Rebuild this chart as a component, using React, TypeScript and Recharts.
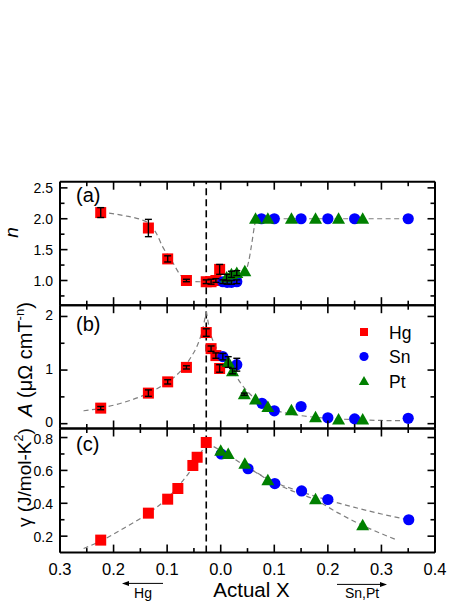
import React from "react";
import {
  ComposedChart,
  Scatter,
  Line,
  XAxis,
  YAxis,
  ReferenceLine,
  ErrorBar,
  Legend,
} from "recharts";

const FONT = "'Liberation Sans', Arial, Helvetica, sans-serif";
const W = 471;

// x < 0 is the Hg side, x > 0 the Sn / Pt side; tick labels show |x|
const xDomain = [-0.3, 0.4];
const xTicks = [-0.3, -0.25, -0.2, -0.15, -0.1, -0.05, 0, 0.05, 0.1, 0.15, 0.2, 0.25, 0.3, 0.35, 0.4];
const xMajor = [-0.3, -0.2, -0.1, 0, 0.1, 0.2, 0.3, 0.4];
const xCritical = -0.027;

// (a) exponent n
const nTicks = [0.75, 1.0, 1.25, 1.5, 1.75, 2.0, 2.25, 2.5];
const nMajor = [1.0, 1.5, 2.0, 2.5];
const nHg = [
  { x: -0.224, y: 2.1, e: 0.08 },
  { x: -0.135, y: 1.85, e: 0.14 },
  { x: -0.099, y: 1.35, e: 0.05 },
  { x: -0.064, y: 1.0, e: 0.02 },
  { x: -0.027, y: 0.98, e: 0.03 },
  { x: -0.018, y: 0.98, e: 0.04 },
  { x: -0.009, y: 1.0, e: 0.03 },
  { x: -0.002, y: 1.18, e: 0.08 },
];
const nSn = [
  { x: 0.004, y: 0.98, e: 0.03 },
  { x: 0.012, y: 0.97, e: 0.03 },
  { x: 0.02, y: 0.97, e: 0.03 },
  { x: 0.03, y: 0.98, e: 0.03 },
  { x: 0.076, y: 2.0 },
  { x: 0.1, y: 2.0 },
  { x: 0.15, y: 2.0 },
  { x: 0.2, y: 2.0 },
  { x: 0.25, y: 2.0 },
  { x: 0.35, y: 2.0 },
];
const nPt = [
  { x: 0.011, y: 1.05, e: 0.05 },
  { x: 0.02, y: 1.1, e: 0.05 },
  { x: 0.03, y: 1.12, e: 0.04 },
  { x: 0.045, y: 1.15 },
  { x: 0.065, y: 2.0 },
  { x: 0.088, y: 2.0 },
  { x: 0.132, y: 2.0 },
  { x: 0.177, y: 2.0 },
  { x: 0.22, y: 2.0 },
  { x: 0.265, y: 2.0 },
];
const nFit = [
  { x: -0.224, y: 2.11 },
  { x: -0.18, y: 2.05 },
  { x: -0.15, y: 1.99 },
  { x: -0.135, y: 1.93 },
  { x: -0.12, y: 1.76 },
  { x: -0.108, y: 1.54 },
  { x: -0.09, y: 1.3 },
  { x: -0.077, y: 1.11 },
  { x: -0.062, y: 1.0 },
  { x: -0.04, y: 0.98 },
  { x: 0.0, y: 0.98 },
  { x: 0.03, y: 1.0 },
  { x: 0.045, y: 1.12 },
  { x: 0.052, y: 1.3 },
  { x: 0.058, y: 1.6 },
  { x: 0.063, y: 1.88 },
  { x: 0.066, y: 2.0 },
  { x: 0.1, y: 2.0 },
  { x: 0.35, y: 2.0 },
];

// (b) coefficient A
const aTicks = [0, 0.5, 1, 1.5, 2];
const aMajor = [0, 1, 2];
const aHg = [
  { x: -0.224, y: 0.29, e: 0.03 },
  { x: -0.135, y: 0.57, e: 0.06 },
  { x: -0.099, y: 0.78, e: 0.04 },
  { x: -0.064, y: 1.05, e: 0.03 },
  { x: -0.027, y: 1.7, e: 0.07 },
  { x: -0.018, y: 1.4, e: 0.05 },
  { x: -0.009, y: 1.27, e: 0.05 },
  { x: -0.002, y: 1.03, e: 0.07 },
];
const aSn = [
  { x: 0.004, y: 1.25, e: 0.06 },
  { x: 0.03, y: 1.1, e: 0.12 },
  { x: 0.077, y: 0.38 },
  { x: 0.1, y: 0.24 },
  { x: 0.15, y: 0.32 },
  { x: 0.2, y: 0.11 },
  { x: 0.25, y: 0.09 },
  { x: 0.35, y: 0.1 },
];
const aPt = [
  { x: 0.014, y: 1.15, e: 0.1 },
  { x: 0.022, y: 0.98, e: 0.05 },
  { x: 0.044, y: 0.55, e: 0.02 },
  { x: 0.065, y: 0.45 },
  { x: 0.088, y: 0.31 },
  { x: 0.132, y: 0.25 },
  { x: 0.177, y: 0.12 },
  { x: 0.22, y: 0.08 },
  { x: 0.265, y: 0.08 },
];
const aFitLeft = [
  { x: -0.256, y: 0.24 },
  { x: -0.224, y: 0.29 },
  { x: -0.18, y: 0.4 },
  { x: -0.135, y: 0.57 },
  { x: -0.1, y: 0.77 },
  { x: -0.075, y: 0.98 },
  { x: -0.055, y: 1.25 },
  { x: -0.042, y: 1.5 },
  { x: -0.034, y: 1.75 },
  { x: -0.027, y: 2.1 },
];
const aFitRight = [
  { x: -0.027, y: 2.1 },
  { x: -0.02, y: 1.72 },
  { x: -0.01, y: 1.45 },
  { x: 0.0, y: 1.25 },
  { x: 0.02, y: 1.02 },
  { x: 0.04, y: 0.72 },
  { x: 0.06, y: 0.5 },
  { x: 0.08, y: 0.36 },
  { x: 0.1, y: 0.26 },
  { x: 0.12, y: 0.2 },
  { x: 0.15, y: 0.15 },
  { x: 0.2, y: 0.1 },
  { x: 0.25, y: 0.075 },
  { x: 0.3, y: 0.06 },
  { x: 0.35, y: 0.055 },
];

// (c) Sommerfeld coefficient gamma
const gTicks = [0.2, 0.3, 0.4, 0.5, 0.6, 0.7, 0.8];
const gMajor = [0.2, 0.4, 0.6, 0.8];
const gHg = [
  { x: -0.224, y: 0.176 },
  { x: -0.135, y: 0.34 },
  { x: -0.099, y: 0.425 },
  { x: -0.08, y: 0.49 },
  { x: -0.052, y: 0.63 },
  { x: -0.044, y: 0.68 },
  { x: -0.027, y: 0.77 },
];
const gSn = [
  { x: 0.001, y: 0.7 },
  { x: 0.051, y: 0.61 },
  { x: 0.101, y: 0.52 },
  { x: 0.151, y: 0.475 },
  { x: 0.2, y: 0.423 },
  { x: 0.351, y: 0.3 },
];
const gPt = [
  { x: 0.0, y: 0.72 },
  { x: 0.014, y: 0.7 },
  { x: 0.045, y: 0.64 },
  { x: 0.088, y: 0.54 },
  { x: 0.177, y: 0.425 },
  { x: 0.265, y: 0.267 },
];
const gFitLeft = [
  { x: -0.256, y: 0.125 },
  { x: -0.224, y: 0.17 },
  { x: -0.18, y: 0.25 },
  { x: -0.135, y: 0.34 },
  { x: -0.1, y: 0.43 },
  { x: -0.07, y: 0.54 },
  { x: -0.05, y: 0.63 },
  { x: -0.027, y: 0.77 },
];
const gFitSn = [
  { x: -0.027, y: 0.77 },
  { x: 0.0, y: 0.72 },
  { x: 0.03, y: 0.66 },
  { x: 0.06, y: 0.6 },
  { x: 0.1, y: 0.53 },
  { x: 0.15, y: 0.47 },
  { x: 0.2, y: 0.42 },
  { x: 0.25, y: 0.375 },
  { x: 0.3, y: 0.335 },
  { x: 0.35, y: 0.3 },
];
const gFitPt = [
  { x: 0.06, y: 0.6 },
  { x: 0.09, y: 0.54 },
  { x: 0.13, y: 0.48 },
  { x: 0.177, y: 0.42 },
  { x: 0.22, y: 0.34 },
  { x: 0.265, y: 0.265 },
  { x: 0.3, y: 0.215 },
  { x: 0.33, y: 0.175 },
];

const legendOrder = ["Hg", "Sn", "Pt"];
const COLORS: Record<string, string> = { Hg: "#ff0000", Sn: "#0000ff", Pt: "#008000" };
const AX = { stroke: "#000", strokeWidth: 2 };

const isIn = (list: number[], v: number) => list.some((m) => Math.abs(m - v) < 1e-6);

const Square = (p: any) => (
  <rect x={p.cx - 5.5} y={p.cy - 5.5} width={11} height={11} fill={COLORS.Hg} />
);
const Dot = (p: any) => <circle cx={p.cx} cy={p.cy} r={5.6} fill={COLORS.Sn} />;
const Tri = (p: any) => (
  <polygon
    points={`${p.cx},${p.cy - 6.5} ${p.cx - 6.5},${p.cy + 5} ${p.cx + 6.5},${p.cy + 5}`}
    fill={COLORS.Pt}
  />
);
const Nothing = () => <g />;

function XTick(props: any) {
  const { x, y, payload, side, labels } = props;
  const v = payload.value;
  const major = isIn(xMajor, v);
  const d = side === "bottom" ? -1 : 1;
  return (
    <g>
      <line x1={x} x2={x} y1={y} y2={y + d * (major ? 8 : 4.5)} stroke="#000" strokeWidth={1.6} />
      {labels && major && (
        <text x={x} y={y + 22.5} textAnchor="middle" fontSize={16.5} fontFamily={FONT} fill="#000">
          {Math.abs(v).toFixed(1)}
        </text>
      )}
    </g>
  );
}

function YTick(props: any) {
  const { x, y, payload, side, majors, digits, nudge } = props;
  const v = payload.value;
  const major = isIn(majors, v);
  const d = side === "left" ? 1 : -1;
  return (
    <g>
      <line x1={x} x2={x + d * (major ? 7.5 : 4.5)} y1={y} y2={y} stroke="#000" strokeWidth={1.6} />
      {side === "left" && major && (
        <text x={x - 7} y={y + 5 + (nudge || 0)} textAnchor="end" fontSize={14} fontFamily={FONT} fill="#000">
          {v.toFixed(digits)}
        </text>
      )}
    </g>
  );
}

function PanelTitle(props: any) {
  const vb = props.viewBox || {};
  const { kind, tag, tagDy } = props;
  const cy = vb.y + vb.height / 2;
  let title: React.ReactNode = null;
  if (kind === "n") {
    const tx = 18;
    const ty = cy - 11;
    title = (
      <text x={tx} y={ty} transform={`rotate(-90 ${tx} ${ty})`} textAnchor="middle" fontSize={19} fontStyle="italic" fontFamily={FONT}>
        n
      </text>
    );
  } else if (kind === "A") {
    const tx = 32;
    const ty = cy + 50;
    title = (
      <text x={tx} y={ty} transform={`rotate(-90 ${tx} ${ty})`} textAnchor="start" fontSize={20} fontFamily={FONT}>
        <tspan fontStyle="italic">A</tspan>
        <tspan> (μΩ cmT</tspan>
        <tspan dy={-8} fontSize={13}>-n</tspan>
        <tspan dy={8}>)</tspan>
      </text>
    );
  } else {
    const tx = 31;
    const ty = cy + 36.5;
    title = (
      <text x={tx} y={ty} transform={`rotate(-90 ${tx} ${ty})`} textAnchor="start" fontSize={19} fontFamily={FONT}>
        <tspan>γ (J/mol-K</tspan>
        <tspan dy={-8} fontSize={12.5}>2</tspan>
        <tspan dy={8}>)</tspan>
      </text>
    );
  }
  return (
    <g>
      {title}
      <text x={76} y={vb.y + tagDy} fontSize={20} fontFamily={FONT} fill="#000">
        {tag}
      </text>
    </g>
  );
}

function XTitle(props: any) {
  const vb = props.viewBox || {};
  const x0 = vb.x;
  const y0 = vb.y;
  const ya = y0 + 30.8;
  const yb = y0 + 31.8;
  return (
    <g fontFamily={FONT} fill="#000">
      <text x={x0 + vb.width / 2 + 4} y={y0 + 44} textAnchor="middle" fontSize={20.5}>
        Actual X
      </text>
      <line x1={x0 + 103} x2={x0 + 68} y1={ya} y2={ya} stroke="#000" strokeWidth={1} />
      <polygon points={`${x0 + 62},${ya} ${x0 + 69},${ya - 2.5} ${x0 + 69},${ya + 2.5}`} fill="#000" />
      <text x={x0 + 83} y={y0 + 45} textAnchor="middle" fontSize={14}>
        Hg
      </text>
      <line x1={x0 + 277} x2={x0 + 321} y1={yb} y2={yb} stroke="#000" strokeWidth={1} />
      <polygon points={`${x0 + 327},${yb} ${x0 + 320},${yb - 2.5} ${x0 + 320},${yb + 2.5}`} fill="#000" />
      <text x={x0 + 302} y={y0 + 45} textAnchor="middle" fontSize={14}>
        Sn,Pt
      </text>
    </g>
  );
}

function LegendBox(props: any) {
  const items = (props.payload || [])
    .filter((p: any) => COLORS[p.value])
    .sort((a: any, b: any) => legendOrder.indexOf(a.value) - legendOrder.indexOf(b.value));
  return (
    <svg width={70} height={80}>
      {items.map((it: any, i: number) => {
        const cy = 12 + i * 24.5;
        const c = COLORS[it.value];
        let sym: React.ReactNode;
        if (it.type === "square") sym = <rect x={5} y={cy - 4} width={8} height={8} fill={c} />;
        else if (it.type === "circle") sym = <circle cx={9} cy={cy} r={4.6} fill={c} />;
        else sym = <polygon points={`9,${cy - 5} 3.8,${cy + 4} 14.2,${cy + 4}`} fill={c} />;
        return (
          <g key={it.value}>
            {sym}
            <text x={34} y={cy + 6.5} fontSize={17.5} fontFamily={FONT} fill="#000">
              {it.value}
            </text>
          </g>
        );
      })}
    </svg>
  );
}

type Pt = { x: number; y: number; e?: number };

interface PanelProps {
  top: number;
  height: number;
  mTop: number;
  mBottom: number;
  domain: number[];
  yTicks: number[];
  yMajor: number[];
  digits: number;
  nudge: number;
  hg: Pt[];
  sn: Pt[];
  pt: Pt[];
  fits: Pt[][];
  kind: string;
  tag: string;
  tagDy: number;
  legend?: boolean;
  bottomLabels?: boolean;
}

function Panel(p: PanelProps) {
  const withErr = (d: Pt[]) => d.filter((q) => q.e !== undefined);
  return (
    <div style={{ position: "absolute", left: 0, top: p.top, width: W, height: p.height }}>
      <ComposedChart
        width={W}
        height={p.height}
        margin={{ top: p.mTop - 1, right: 35, bottom: p.mBottom - 1, left: 0 }}
      >
        <XAxis
          xAxisId="top"
          orientation="top"
          type="number"
          dataKey="x"
          domain={xDomain}
          allowDataOverflow
          ticks={xTicks}
          interval={0}
          height={1}
          tickSize={0}
          tickMargin={0}
          stroke="#000"
          axisLine={AX}
          tickLine={false}
          tick={<XTick side="top" />}
        />
        <XAxis
          type="number"
          dataKey="x"
          domain={xDomain}
          allowDataOverflow
          ticks={xTicks}
          interval={0}
          height={1}
          tickSize={0}
          tickMargin={0}
          stroke="#000"
          axisLine={AX}
          tickLine={false}
          tick={<XTick side="bottom" labels={p.bottomLabels} />}
          label={p.bottomLabels ? <XTitle /> : undefined}
        />
        <YAxis
          type="number"
          domain={p.domain}
          allowDataOverflow
          ticks={p.yTicks}
          interval={0}
          width={60}
          tickSize={0}
          tickMargin={0}
          stroke="#000"
          axisLine={AX}
          tickLine={false}
          tick={<YTick side="left" majors={p.yMajor} digits={p.digits} nudge={p.nudge} />}
          label={<PanelTitle kind={p.kind} tag={p.tag} tagDy={p.tagDy} />}
        />
        <YAxis
          yAxisId="r"
          orientation="right"
          type="number"
          domain={p.domain}
          allowDataOverflow
          ticks={p.yTicks}
          interval={0}
          width={1}
          tickSize={0}
          tickMargin={0}
          stroke="#000"
          axisLine={AX}
          tickLine={false}
          tick={<YTick side="right" majors={p.yMajor} digits={p.digits} />}
        />
        <ReferenceLine x={xCritical} stroke="#000" strokeDasharray="7 4" strokeWidth={1.6} />
        {p.fits.map((f, i) => (
          <Line
            key={"fit" + i}
            data={f}
            dataKey="y"
            type="monotone"
            stroke="#7f7f7f"
            strokeWidth={1.2}
            strokeDasharray="5 3.5"
            dot={false}
            legendType="none"
            isAnimationActive={false}
          />
        ))}
        <Scatter name="Hg" data={p.hg} dataKey="y" fill={COLORS.Hg} legendType="square" shape={Square} isAnimationActive={false} />
        <Scatter name="Sn" data={p.sn} dataKey="y" fill={COLORS.Sn} legendType="circle" shape={Dot} isAnimationActive={false} />
        <Scatter name="Pt" data={p.pt} dataKey="y" fill={COLORS.Pt} legendType="triangle" shape={Tri} isAnimationActive={false} />
        {[p.hg, p.sn, p.pt].map((d, i) =>
          withErr(d).length ? (
            <Scatter key={"err" + i} name={"err" + i} data={withErr(d)} dataKey="y" legendType="none" shape={Nothing} isAnimationActive={false} {...({ zIndex: 700 } as any)}>
              <ErrorBar dataKey="e" direction="y" width={3.5} stroke="#000" strokeWidth={1.4} isAnimationActive={false} {...({ zIndex: 700 } as any)} />
            </Scatter>
          ) : null
        )}
        {p.legend && (
          <Legend
            layout="vertical"
            align="center"
            verticalAlign="middle"
            content={<LegendBox />}
            wrapperStyle={{ left: 355, top: 40, width: 70, height: 80 }}
          />
        )}
      </ComposedChart>
    </div>
  );
}

export default function App() {
  return (
    <div style={{ position: "absolute", left: 0, top: 0, width: W, height: 609, background: "#fff" }}>
      <Panel
        top={150}
        height={180}
        mTop={31.7}
        mBottom={24.8}
        domain={[0.6, 2.6]}
        yTicks={nTicks}
        yMajor={nMajor}
        digits={1}
        nudge={0}
        hg={nHg}
        sn={nSn}
        pt={nPt}
        fits={[nFit]}
        kind="n"
        tag="(a)"
        tagDy={20.5}
      />
      <Panel
        top={280}
        height={175}
        mTop={25.2}
        mBottom={26.5}
        domain={[-0.09, 2.21]}
        yTicks={aTicks}
        yMajor={aMajor}
        digits={0}
        nudge={-1.5}
        hg={aHg}
        sn={aSn}
        pt={aPt}
        fits={[aFitLeft, aFitRight]}
        kind="A"
        tag="(b)"
        tagDy={26}
        legend
      />
      <Panel
        top={400}
        height={209}
        mTop={28.5}
        mBottom={56.4}
        domain={[0.1, 0.855]}
        yTicks={gTicks}
        yMajor={gMajor}
        digits={1}
        nudge={1}
        hg={gHg}
        sn={gSn}
        pt={gPt}
        fits={[gFitLeft, gFitSn, gFitPt]}
        kind="g"
        tag="(c)"
        tagDy={22.5}
        bottomLabels
      />
    </div>
  );
}
